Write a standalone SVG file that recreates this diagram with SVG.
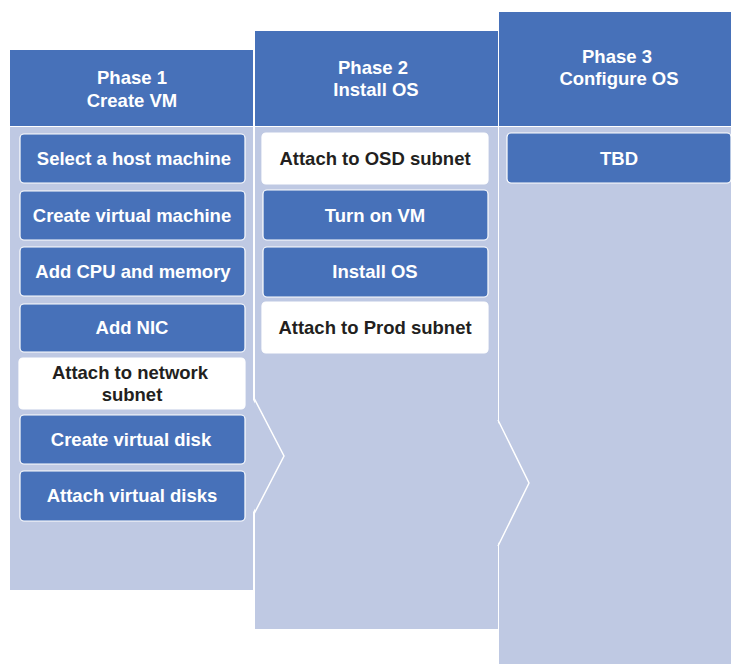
<svg xmlns="http://www.w3.org/2000/svg" width="731" height="664" viewBox="0 0 731 664">
  <style>
    .hdr { fill: #4771B9; }
    .body { fill: #BFC9E3; }
    .step { fill: #4771B9; stroke: #FFFFFF; stroke-width: 1.2; }
    .step-alt { fill: #FFFFFF; stroke: #FFFFFF; stroke-width: 1.2; }
    text { font-family: "Liberation Sans", Arial, sans-serif; font-weight: bold; font-size: 18.5px; text-anchor: middle; }
    .lt { fill: #FFFFFF; }
    .dk { fill: #231F20; }
    .notch { fill: none; stroke: #FFFFFF; stroke-width: 1.5; stroke-linejoin: miter; }
  </style>
  <rect width="731" height="664" fill="#FFFFFF"/>

  <!-- Phase 1 column -->
  <g id="phase1">
    <rect class="hdr" x="10" y="50" width="243" height="76"/>
    <text class="lt" x="132" y="84">Phase 1</text>
    <text class="lt" x="132" y="107">Create VM</text>
    <rect class="body" x="10" y="127" width="243" height="463"/>
  </g>

  <!-- Phase 2 column -->
  <g id="phase2">
    <rect class="hdr" x="255" y="31" width="243" height="95"/>
    <text class="lt" x="373" y="74">Phase 2</text>
    <text class="lt" x="376" y="96">Install OS</text>
    <rect class="body" x="255" y="127" width="243" height="502"/>
  </g>

  <!-- Phase 3 column -->
  <g id="phase3">
    <rect class="hdr" x="499" y="12" width="232" height="114"/>
    <text class="lt" x="617" y="63">Phase 3</text>
    <text class="lt" x="619" y="85">Configure OS</text>
    <rect class="body" x="499" y="127" width="232" height="537"/>
  </g>

  <!-- arrow points between columns -->
  <g id="connectors">
    <polygon class="body" points="252,398 284,456 252,514"/>
    <polyline class="notch" points="254,398 284,456 254,514"/>
    <polygon class="body" points="497,420 529,483 497,546"/>
    <polyline class="notch" points="498,420 529,483 498,546"/>
  </g>

  <!-- Phase 1 steps -->
  <g id="select-host">
    <rect class="step" x="20" y="134" width="225" height="49" rx="4"/>
    <text class="lt" x="134" y="165">Select a host machine</text>
  </g>
  <g id="create-vm">
    <rect class="step" x="20" y="191" width="225" height="49" rx="4"/>
    <text class="lt" x="132" y="222">Create virtual machine</text>
  </g>
  <g id="add-cpu">
    <rect class="step" x="20" y="247" width="225" height="49" rx="4"/>
    <text class="lt" x="133" y="278">Add CPU and memory</text>
  </g>
  <g id="add-nic">
    <rect class="step" x="20" y="304" width="225" height="48" rx="4"/>
    <text class="lt" x="132" y="334">Add NIC</text>
  </g>
  <g id="attach-network">
    <rect class="step-alt" x="19" y="358" width="226" height="51" rx="4"/>
    <text class="dk" x="130" y="379">Attach to network</text>
    <text class="dk" x="132" y="401">subnet</text>
  </g>
  <g id="create-disk">
    <rect class="step" x="20" y="415" width="225" height="49" rx="4"/>
    <text class="lt" x="131" y="446">Create virtual disk</text>
  </g>
  <g id="attach-disks">
    <rect class="step" x="20" y="471" width="225" height="50" rx="4"/>
    <text class="lt" x="132" y="502">Attach virtual disks</text>
  </g>

  <!-- Phase 2 steps -->
  <g id="attach-osd">
    <rect class="step-alt" x="262" y="133" width="226" height="51" rx="4"/>
    <text class="dk" x="375" y="165">Attach to OSD subnet</text>
  </g>
  <g id="turn-on">
    <rect class="step" x="263" y="190" width="225" height="50" rx="4"/>
    <text class="lt" x="375" y="222">Turn on VM</text>
  </g>
  <g id="install-os">
    <rect class="step" x="263" y="247" width="225" height="50" rx="4"/>
    <text class="lt" x="375" y="278">Install OS</text>
  </g>
  <g id="attach-prod">
    <rect class="step-alt" x="262" y="302" width="226" height="51" rx="4"/>
    <text class="dk" x="375" y="334">Attach to Prod subnet</text>
  </g>

  <!-- Phase 3 steps -->
  <g id="tbd">
    <rect class="step" x="507" y="133" width="224" height="50" rx="4"/>
    <text class="lt" x="619" y="165">TBD</text>
  </g>
</svg>
